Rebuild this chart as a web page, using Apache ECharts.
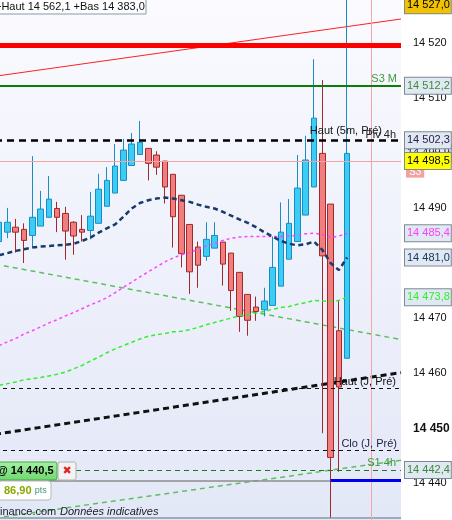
<!DOCTYPE html>
<html><head><meta charset="utf-8">
<script src="https://cdn.jsdelivr.net/npm/echarts@6/dist/echarts.min.js"></script>
<style>html,body{margin:0;padding:0;background:#fff;}#c{width:452px;height:520px;}</style>
</head><body><div id="c"></div>
<script>
// ---- data ----
const categories = ['1','2','3','4','5','6','7','8','9','10','11','12','13','14','15','16','17','18','19','20','21','22','23','24','25','26','27','28','29','30','31','32','33','34','35','36','37','38','39','40','41','42','43','44','45','46','47','48','49'];
const open  = [14483.9,14485.6,14486.5,14486.1,14485.0,14486.7,14488.3,14489.9,14489.0,14487.4,14486.1,14485.9,14487.2,14490.3,14492.7,14495.0,14497.7,14499.7,14500.8,14499.6,14498.5,14496.1,14492.3,14487.0,14482.9,14481.2,14482.7,14483.8,14481.8,14478.3,14474.3,14472.0,14471.5,14472.3,14475.8,14480.7,14483.9,14488.7,14493.8,14499.9,14490.7,14467.7,14462.7];
const close = [14487.4,14487.4,14485.6,14484.1,14488.3,14489.8,14491.6,14488.3,14485.8,14484.9,14485.6,14488.5,14493.4,14495.0,14497.6,14500.5,14501.6,14501.9,14498.1,14497.4,14493.8,14488.4,14481.7,14478.4,14479.6,14484.3,14485.0,14479.8,14475.0,14470.3,14469.6,14471.2,14473.1,14479.2,14485.6,14487.2,14493.6,14498.7,14506.3,14481.3,14444.7,14457.5,14499.9];
const low   = [14483.5,14484.5,14481.9,14480.0,14482.8,14486.7,14488.3,14485.6,14480.6,14481.5,14483.9,14484.3,14487.2,14490.3,14492.7,14495.0,14497.7,14499.7,14495.0,14496.0,14490.8,14482.8,14479.2,14474.4,14475.5,14480.4,14482.7,14475.9,14471.3,14467.5,14466.8,14469.5,14470.3,14472.3,14475.8,14480.7,14483.9,14488.7,14493.8,14449.1,14433.7,14442.1,14462.7];
const high  = [14488.0,14490.0,14488.0,14487.2,14499.4,14493.1,14495.8,14491.1,14490.2,14487.6,14488.7,14492.9,14496.2,14497.4,14501.6,14502.5,14503.6,14505.8,14500.8,14500.3,14498.5,14496.1,14492.3,14487.0,14483.9,14487.4,14487.4,14483.8,14481.8,14478.3,14474.3,14473.9,14475.5,14484.8,14491.0,14491.6,14499.6,14503.1,14517.0,14513.2,14490.7,14473.3,14528.0];
const maNavy    = [14481.4,14481.8,14482.2,14482.5,14482.8,14483.0,14483.1,14483.2,14483.3,14483.5,14484.0,14484.6,14485.5,14486.3,14487.0,14488.4,14489.9,14490.9,14491.4,14491.7,14491.9,14491.7,14491.4,14491.1,14490.6,14490.2,14489.9,14489.3,14488.6,14487.9,14487.3,14486.5,14485.6,14484.8,14484.0,14483.5,14483.2,14483.4,14483.9,14482.4,14480.0,14478.7,14481.0];
const maMagenta = [14465.0,14465.7,14466.3,14467.1,14467.7,14468.4,14469.1,14469.7,14470.4,14471.0,14471.7,14472.4,14473.0,14473.7,14474.6,14475.6,14476.5,14477.5,14478.4,14479.3,14480.2,14480.9,14481.5,14481.9,14482.5,14483.1,14483.6,14484.1,14484.5,14484.7,14484.8,14484.8,14484.8,14484.8,14484.8,14484.9,14485.0,14485.3,14485.4,14485.2,14484.6,14484.9,14485.4];
const maLime    = [14457.8,14458.1,14458.4,14458.8,14459.0,14459.2,14459.5,14459.8,14460.2,14460.8,14461.4,14462.2,14462.9,14463.7,14464.4,14465.0,14465.6,14466.2,14466.7,14467.0,14467.2,14467.5,14467.6,14467.9,14468.3,14468.8,14469.2,14469.6,14470.0,14470.4,14470.6,14470.9,14471.2,14471.6,14471.9,14472.1,14472.5,14472.8,14473.2,14473.1,14473.0,14473.2,14473.8];
// trend lines: values at left edge / right edge of the chart
const trendRed        = [14513.9, 14524.3];
const trendGreenDown  = [14479.8, 14466.1];
const trendBlackUp    = [14448.9, 14460.1];
const trendGreenUp    = [14433.7, 14444.2];
// price levels
const lvlTop = 14526.8, lvlRed = 14519.45, lvlS3M = 14512.2, lvlHaut5m = 14502.3, lvlPiv4h = 14499.9;
const lvlLast = 14498.5, lvlS3 = 14496.5, lvlHautJ = 14457.25, lvlCloJ = 14446.05, lvlS14h = 14442.4;
const lvlOrder = 14440.5, lvlFloor = 14433.7;
const timeMarker = 45.46, orderStart = 40.5, xEnd = 49;
const yTicksMin = 14430, yTicksMax = 14530, yTickStep = 10;

// ---- helpers ----
const FONT = '"Liberation Sans", Arial, sans-serif';
function fmt(v){ const s = v.toFixed(1).replace('.', ','); return s.slice(0,2) + ' ' + s.slice(2); }
function box(v, color, bg, text){
  return {show:true, position:'end', distance:4, formatter: text || fmt(v), color: color,
    backgroundColor: bg || '#e0e8f1', borderColor:'#7c8a98', borderWidth:1,
    padding:[2,1,1,2], fontSize:11, fontFamily:FONT, lineHeight:13};
}
function inner(t, color, dist){
  return {show:true, position:'insideEndTop', distance: dist, formatter: t, color: color,
    fontSize:11, fontFamily:FONT};
}
function hidden(){ return {color:'rgba(0,0,0,0)', width:0.1, type:'solid'}; }
const noLabel = {show:false};

const candleData = open.map((o,i)=>[o, close[i], low[i], high[i]]);
const T = (arr)=>[[0, arr[0]], [xEnd, arr[1]]];

const chart = echarts.init(document.getElementById('c'), null, {renderer:'canvas'});
chart.setOption({
  animation:false,
  backgroundColor:'#ffffff',
  grid:{left:-5, right:51, top:-12.4, bottom:-18.4, show:true, borderWidth:0, borderColor:'rgba(0,0,0,0)',
    outerBoundsMode:'none', containLabel:false,
    backgroundColor: new echarts.graphic.LinearGradient(0,0,0,1,[{offset:0,color:'#fbfbff'},{offset:1,color:'#e2e7f7'}])},
  xAxis:[
    {type:'category', data:categories, show:false, boundaryGap:true},
    {type:'value', min:0, max:xEnd, show:false}
  ],
  yAxis:{type:'value', position:'right', min:yTicksMin, max:yTicksMax, interval:yTickStep,
    axisLine:{show:true, lineStyle:{color:'#8a96a2', width:1}},
    axisTick:{show:true, length:4, lineStyle:{color:'#333'}},
    splitLine:{show:false},
    axisLabel:{margin:12, color:'#111', fontSize:11, fontFamily:FONT, showMinLabel:true, showMaxLabel:true,
      formatter:(v)=>{ const s=String(v); const t=s.slice(0,2)+' '+s.slice(2); return v===14450 ? '{b|'+t+'}' : t; },
      rich:{b:{fontWeight:'bold', fontSize:12, fontFamily:FONT, color:'#111'}}}
  },
  series:[
    {type:'line', name:'trendRed', xAxisIndex:1, data:T(trendRed), symbol:'none', z:1,
      lineStyle:{color:'#ff2020', width:1},
      markLine:{silent:true, symbol:'none', z:5, animation:false, emphasis:{disabled:true}, precision:2,
        data:[
          {yAxis:lvlFloor, lineStyle:{color:'#8797a7', width:1.5, type:'solid'}, label:noLabel},
          {xAxis:timeMarker, lineStyle:{color:'#f4a6a6', width:1, type:'solid'}, label:noLabel},
          {yAxis:lvlRed, lineStyle:{color:'#ff0000', width:5, type:'solid'}, label:noLabel},
          {yAxis:lvlS3M, lineStyle:{color:'#0a7d0a', width:2, type:'solid'}, label:box(lvlS3M,'#3f8a3f')},
          {yAxis:lvlS3M, lineStyle:hidden(), label:inner('S3 M','#3c9a3c',[4,1])},
          {yAxis:lvlS3, lineStyle:hidden(), label:{show:true, position:'end', distance:5, formatter:'S3', color:'#ffffff', backgroundColor:'#f2a0a0', padding:[1,3,0,3], fontSize:10, fontFamily:FONT}},
          {yAxis:lvlPiv4h, lineStyle:hidden(), label:box(lvlPiv4h,'#2a2050')},
          {yAxis:lvlHaut5m, lineStyle:{color:'#000', width:2.5, type:[7,5]}, label:box(lvlHaut5m,'#2a2050')},
          {yAxis:lvlHaut5m, lineStyle:hidden(), label:inner('Haut (5m, Pré)','#111',[19,4])},
          {yAxis:lvlHaut5m, lineStyle:hidden(), label:inner('Piv 4h','#222',[5,0])},
          {yAxis:lvlLast, lineStyle:{color:'#f4a4a4', width:1, type:'solid'}, label:box(lvlLast,'#000','#ffff00')},
          {yAxis:lvlTop, lineStyle:hidden(), label:box(lvlTop,'#000','#f2c200','14 527,0')},
          {yAxis:maMagenta[maMagenta.length-1], lineStyle:hidden(), label:box(maMagenta[maMagenta.length-1],'#ff3cff')},
          {yAxis:maNavy[maNavy.length-1], lineStyle:hidden(), label:box(maNavy[maNavy.length-1],'#1a3566')},
          {yAxis:maLime[maLime.length-1], lineStyle:hidden(), label:box(maLime[maLime.length-1],'#2ef02e')},
          {yAxis:lvlHautJ, lineStyle:{color:'#111', width:1, type:[4,4]}, label:inner('Haut (J, Pré)','#111',[5,1])},
          {yAxis:lvlCloJ, lineStyle:{color:'#111', width:1, type:[4,4]}, label:inner('Clo (J, Pré)','#1a2040',[4,1])},
          {yAxis:lvlS14h, lineStyle:{color:'#1a7a1a', width:1, type:[5,4]}, label:box(lvlS14h,'#3a8a3a')},
          {yAxis:lvlS14h, lineStyle:hidden(), label:inner('S1 4h','#3a9a3a',[5,2])},
          [{coord:[0, lvlOrder], lineStyle:{color:'#8c8c8c', width:1.5, type:'solid'}, label:noLabel},{coord:[orderStart, lvlOrder]}],
          [{coord:[orderStart, lvlOrder], lineStyle:{color:'#0000ee', width:3, type:'solid'}, label:noLabel},{coord:[xEnd, lvlOrder]}]
        ]}
    },
    {type:'line', name:'trendGreenDown', xAxisIndex:1, data:T(trendGreenDown), symbol:'none', z:1,
      lineStyle:{color:'#5fbf5f', width:1.5, type:[5,4]}},
    {type:'line', name:'trendBlackUp', xAxisIndex:1, data:T(trendBlackUp), symbol:'none', z:1,
      lineStyle:{color:'#111', width:3, type:[6,4]}},
    {type:'line', name:'trendGreenUp', xAxisIndex:1, data:T(trendGreenUp), symbol:'none', z:1,
      lineStyle:{color:'#5fbf5f', width:1.5, type:[5,4]}},
    {type:'candlestick', name:'cours', xAxisIndex:0, data:candleData, barWidth:6, z:2,
      itemStyle:{color:'#3ccdf4', color0:'#f07e7e', borderColor:'#1a8cc4', borderColor0:'#a3282a', borderWidth:1}},
    {type:'line', name:'maLime', xAxisIndex:0, data:maLime, symbol:'none', z:3,
      lineStyle:{color:'#33ee33', width:1.5, type:[4,3]}},
    {type:'line', name:'maMagenta', xAxisIndex:0, data:maMagenta, symbol:'none', z:3,
      lineStyle:{color:'#ff44ff', width:1.5, type:[3,3]}},
    {type:'line', name:'maNavy', xAxisIndex:0, data:maNavy, symbol:'none', z:3,
      lineStyle:{color:'#1a3a6a', width:2.5, type:[5,3.5]}}
  ],
  graphic:[
    {type:'rect', shape:{x:-1,y:-1,width:147,height:15}, style:{fill:'#fdfdff', stroke:'#8b98a5', lineWidth:1}, z:100},
    {type:'text', x:-5, y:7, style:{text:'+Haut 14 562,1 +Bas 14 383,0', fill:'#111', font:'11px '+FONT, verticalAlign:'middle'}, z:101},
    {type:'rect', shape:{x:-1,y:462,width:58,height:18,r:2}, style:{fill:new echarts.graphic.LinearGradient(0,0,0,1,[{offset:0,color:'#a4f2a4'},{offset:1,color:'#6fd66f'}]), stroke:'#44a844', lineWidth:1}, z:100},
    {type:'text', x:-3, y:471, style:{text:'@ 14 440,5', fill:'#000', font:'bold 11px '+FONT, verticalAlign:'middle'}, z:101},
    {type:'rect', shape:{x:58,y:462,width:18,height:18,r:2}, style:{fill:'#f3f3f3', stroke:'#b0b0b0', lineWidth:1}, z:100},
    {type:'text', x:67, y:471, style:{text:'✖', fill:'#e02828', font:'bold 11px "DejaVu Sans"', align:'center', verticalAlign:'middle'}, z:101},
    {type:'rect', shape:{x:-2,y:481,width:53,height:19,r:3}, style:{fill:'#ffffff', stroke:'#b8b8b8', lineWidth:1}, z:100},
    {type:'text', x:4, y:491, style:{text:'{a|86,90} {p|pts}', verticalAlign:'middle', rich:{a:{fill:'#8aa800', font:'bold 11px '+FONT}, p:{fill:'#3a9a78', font:'9px '+FONT}}}, z:101},
    {type:'text', x:0, y:512, style:{text:'inance.com', fill:'#1a1a2a', font:'11px '+FONT, verticalAlign:'middle'}, z:101},
    {type:'text', x:60, y:512, style:{text:'Données indicatives', fill:'#1a1a2a', font:'italic 11px '+FONT, verticalAlign:'middle'}, z:101}
  ]
});
</script></body></html>
